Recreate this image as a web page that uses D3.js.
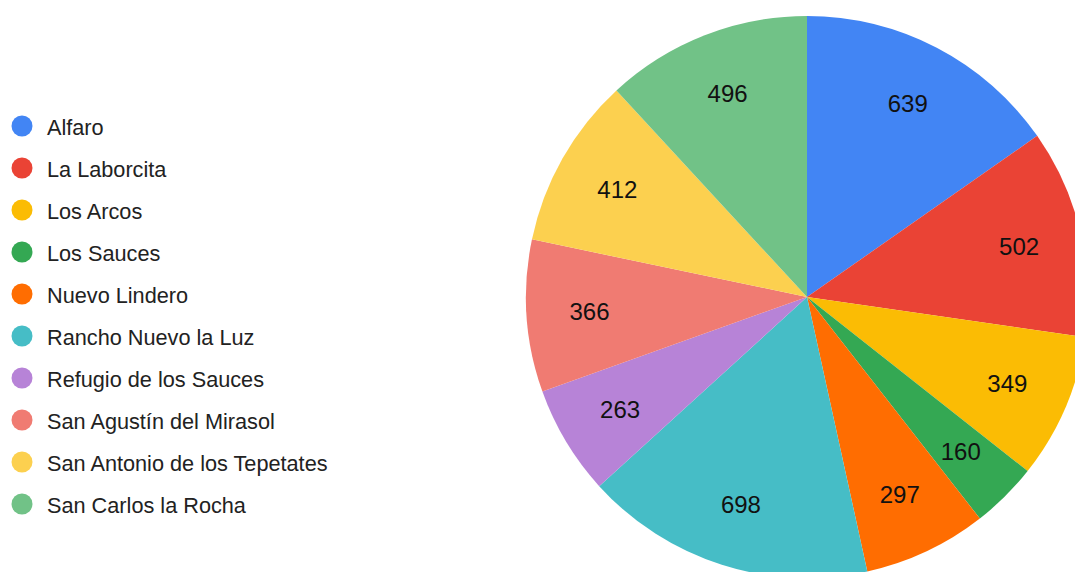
<!DOCTYPE html>
<html>
<head>
<meta charset="utf-8">
<script src="https://cdn.jsdelivr.net/npm/d3@7"></script>
<style>
html,body{margin:0;padding:0;background:#fff;overflow:hidden;}
svg{display:block;font-family:"Liberation Sans",Arial,sans-serif;}
</style>
</head>
<body>
<svg id="chart" width="1075" height="572"></svg>
<script>
const categories = ["Alfaro","La Laborcita","Los Arcos","Los Sauces","Nuevo Lindero","Rancho Nuevo la Luz","Refugio de los Sauces","San Agustín del Mirasol","San Antonio de los Tepetates","San Carlos la Rocha"];
const values = [639,502,349,160,297,698,263,366,412,496];
const colors = ["#4285f4","#ea4335","#fbbc04","#34a853","#ff6d01","#46bdc6","#b783d7","#f07b72","#fcd04f","#71c287"];

const svg = d3.select("#chart");
const cx = 807, cy = 297, R = 281;

const data = categories.map((c,i)=>({name:c, value:values[i], color:colors[i]}));
const pie = d3.pie().sort(null).value(d=>d.value);
const arcs = pie(data);
const arc = d3.arc().innerRadius(0).outerRadius(R);
const labelArc = d3.arc().innerRadius(R*0.776).outerRadius(R*0.776);

const g = svg.append("g").attr("transform",`translate(${cx},${cy})`);
g.selectAll("path.slice").data(arcs).enter().append("path")
  .attr("class","slice")
  .attr("d",arc)
  .attr("fill",d=>d.data.color);

g.selectAll("text.val").data(arcs).enter().append("text")
  .attr("class","val")
  .attr("transform",d=>`translate(${labelArc.centroid(d)})`)
  .attr("text-anchor","middle")
  .attr("dominant-baseline","central")
  .attr("font-size",24)
  .attr("fill","#111")
  .text(d=>d.data.value);

// legend
const ly = d3.scaleBand().domain(categories).range([105,525]);
const leg = svg.append("g");
const items = leg.selectAll("g").data(data).enter().append("g")
  .attr("transform",d=>`translate(0,${ly(d.name)+ly.bandwidth()/2})`);
items.append("circle").attr("cx",22).attr("cy",0).attr("r",10.5).attr("fill",d=>d.color);
items.append("text").attr("x",47).attr("y",1)
  .attr("dominant-baseline","central")
  .attr("font-size",21.7)
  .attr("fill","#222")
  .text(d=>d.name);
</script>
</body>
</html>
